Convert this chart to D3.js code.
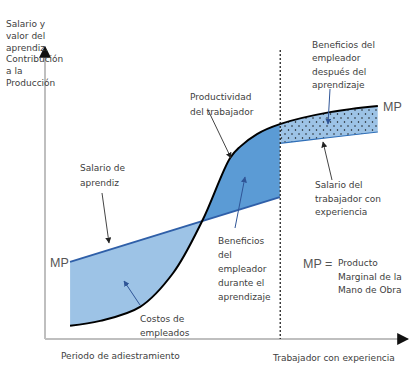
<!DOCTYPE html>
<html><head><meta charset="utf-8">
<script src="https://cdn.jsdelivr.net/npm/d3@7"></script>
<style>body{margin:0;background:#fff}svg{display:block}text{font-family:"DejaVu Sans",Verdana,sans-serif;font-size:9px;fill:#404040}</style>
</head><body><svg id="c" width="418" height="378"></svg>
<script>
// Worker productivity (marginal product) curve, in chart units
const prodX = [6.9, 15.2, 26.2, 35.3, 43.3, 51.0, 53.7, 58.4, 64.7, 78.5, 91.7];
const prodY = [4.5, 6.2, 11.0, 22.6, 40.4, 62.0, 65.8, 70.2, 73.6, 77.7, 79.8];
// Apprentice wage line
const wageX = [6.9, 64.7];
const wageY = [26.4, 48.6];
// Experienced worker wage
const expX = [64.7, 78.5, 91.7];
const expY = [67.0, 69.0, 70.9];
const splitX = 64.8; // end of training period

const svg = d3.select("#c");
const x = d3.scaleLinear().domain([0, 100]).range([45, 408]);
const y = d3.scaleLinear().domain([0, 100]).range([339, 47]);

const prod = prodX.map((v, i) => [v, prodY[i]]);
const wage = wageX.map((v, i) => [v, wageY[i]]);
const exp = expX.map((v, i) => [v, expY[i]]);

const line = d3.line().x(d => x(d[0])).y(d => y(d[1])).curve(d3.curveCatmullRom.alpha(0.5));
const straight = d3.line().x(d => x(d[0])).y(d => y(d[1]));

const defs = svg.append("defs");
const pat = defs.append("pattern").attr("id", "dots").attr("patternUnits", "userSpaceOnUse")
  .attr("width", 7).attr("height", 8);
pat.append("rect").attr("width", 7).attr("height", 8).attr("fill", "#9dc3e6");
pat.append("circle").attr("cx", 1.5).attr("cy", 2).attr("r", 0.75).attr("fill", "#111");
pat.append("circle").attr("cx", 5).attr("cy", 6).attr("r", 0.75).attr("fill", "#111");

function marker(id, color) {
  defs.append("marker").attr("id", id).attr("viewBox", "0 0 10 10").attr("refX", 9).attr("refY", 5)
    .attr("markerWidth", 6).attr("markerHeight", 6).attr("orient", "auto-start-reverse")
    .append("path").attr("d", "M0,0 L10,5 L0,10 z").attr("fill", color);
}
marker("ab", "#222");
marker("abl", "#2f5597");
marker("ax", "#111");

const w0 = wage[0], w1 = wage[wage.length - 1];
// clip: below wage line (costs) and above wage line (benefits)
defs.append("clipPath").attr("id", "below").append("polygon")
  .attr("points", [[x(w0[0]), y(w0[1])], [x(w1[0]), y(w1[1])], [x(w1[0]), y(0)], [x(w0[0]), y(0)]].join(" "));
defs.append("clipPath").attr("id", "above").append("polygon")
  .attr("points", [[x(w0[0]), y(w0[1])], [x(w1[0]), y(w1[1])], [x(w1[0]), y(100)], [x(w0[0]), y(100)]].join(" "));
defs.append("clipPath").attr("id", "right").append("rect")
  .attr("x", x(splitX)).attr("y", 0).attr("width", x(exp[exp.length - 1][0]) - x(splitX)).attr("height", 378);

const lobe = line(prod) + "L" + x(w1[0]) + "," + y(w1[1]) + "L" + x(w0[0]) + "," + y(w0[1]) + "Z";
svg.append("path").attr("d", lobe).attr("fill", "#9dc3e6").attr("clip-path", "url(#below)");
svg.append("path").attr("d", lobe).attr("fill", "#5b9bd5").attr("clip-path", "url(#above)");

const rev = exp.slice().reverse();
const band = line(prod) + "L" + rev.map(d => x(d[0]) + "," + y(d[1])).join("L") + "Z";
svg.append("path").attr("d", band).attr("fill", "url(#dots)").attr("clip-path", "url(#right)");

// lines
svg.append("path").attr("d", straight(wage)).attr("fill", "none").attr("stroke", "#2f5fa8").attr("stroke-width", 2);
svg.append("path").attr("d", line(exp)).attr("fill", "none").attr("stroke", "#2f6fb8").attr("stroke-width", 1.2);
svg.append("path").attr("d", line(prod)).attr("fill", "none").attr("stroke", "#000").attr("stroke-width", 2);

// axes
svg.append("line").attr("x1", x(0)).attr("y1", y(0)).attr("x2", x(0)).attr("y2", y(100))
  .attr("stroke", "#bfbfbf").attr("stroke-width", 2).attr("marker-end", "url(#ax)");
svg.append("line").attr("x1", x(0)).attr("y1", y(0)).attr("x2", x(100)).attr("y2", y(0))
  .attr("stroke", "#bfbfbf").attr("stroke-width", 2).attr("marker-end", "url(#ax)");

// dashed separator
svg.append("line").attr("x1", x(splitX)).attr("x2", x(splitX)).attr("y1", 50).attr("y2", y(0))
  .attr("stroke", "#111").attr("stroke-width", 1.2).attr("stroke-dasharray", "2,2");

// annotation arrows
function arrow(x1, y1, x2, y2, color, m) {
  svg.append("line").attr("x1", x1).attr("y1", y1).attr("x2", x2).attr("y2", y2)
    .attr("stroke", color).attr("stroke-width", 1).attr("marker-end", "url(#" + m + ")");
}
arrow(208, 110, 231, 158, "#444", "ab");
arrow(102, 193, 109, 243, "#444", "ab");
arrow(140, 305, 124, 281, "#2f5597", "abl");
arrow(235, 228, 245, 177, "#2f5597", "abl");
arrow(330, 89, 328, 124, "#2f5597", "abl");
arrow(332, 180, 323, 142, "#444", "ab");

function lines(arr, x0, y0, dy) {
  arr.forEach((t, i) => svg.append("text").attr("x", x0).attr("y", y0 + i * dy).text(t));
}
lines(["Salario y", "valor del", "aprendiz.", "Contribución", "a la", "Producción"], 6, 27, 11.8);
lines(["Productividad", "del trabajador"], 190, 100, 14.5);
lines(["Salario de", "aprendiz"], 80, 171, 15);
lines(["Costos de", "empleados"], 140, 322, 14);
lines(["Beneficios", "del", "empleador", "durante el", "aprendizaje"], 218, 244, 14);
lines(["Beneficios del", "empleador", "después del", "aprendizaje"], 312, 48, 13.4);
lines(["Salario del", "trabajador con", "experiencia"], 315, 188, 13.5);
lines(["Producto", "Marginal de la", "Mano de Obra"], 338, 266, 13.5);
lines(["Periodo de adiestramiento"], 61, 359, 0);
lines(["Trabajador con experiencia"], 273, 361, 0);

const big = (t, x0, y0) => svg.append("text").attr("x", x0).attr("y", y0)
  .style("font-family", "'Liberation Sans',Arial,sans-serif").style("font-size", "12.5px").style("fill", "#555").text(t);
big("MP", 50, 267);
big("MP", 383, 111);
big("MP =", 303, 268);
</script></body></html>
